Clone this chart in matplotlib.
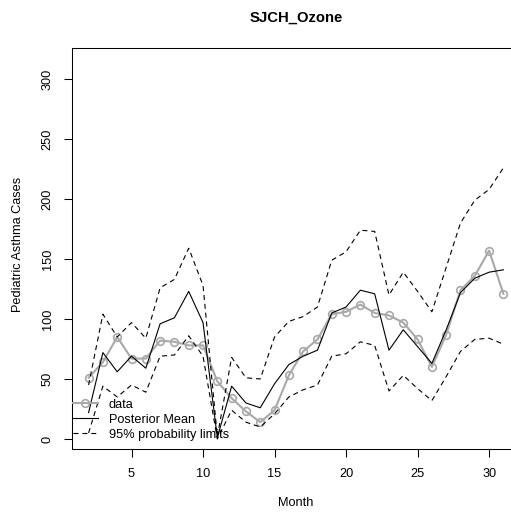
import matplotlib
matplotlib.use("Agg")
import matplotlib.pyplot as plt

plt.rcParams["font.family"] = ["Liberation Sans", "DejaVu Sans"]

# monthly counts and posterior summaries
months = list(range(2, 32))
observed = [51, 64, 85, 67, 67, 82, 81, 78, 78, 48, 34, 23, 14, 24, 53,
            73, 83, 104, 106, 112, 105, 103, 97, 83, 60, 87, 124, 136, 157, 121]
post_mean = [22, 72, 56, 69, 59, 96, 101, 123, 97, 1, 44, 30, 26, 46, 62,
             69, 74, 105, 110, 124, 121, 74, 91, 77, 63, 91, 122, 134, 139, 141]
upper95 = [45, 104, 85, 97, 84, 126, 133, 159, 128, 2, 68, 51, 50, 85, 98,
           102, 110, 149, 156, 174, 173, 120, 139, 123, 106, 143, 180, 199, 208, 226]
lower95 = [5, 44, 35, 45, 39, 69, 70, 86, 69, 0, 24, 14, 10, 21, 35,
           41, 45, 69, 71, 81, 78, 40, 53, 42, 32, 52, 73, 83, 84, 79]

W, H = 511, 514
fig = plt.figure(figsize=(W / 100, H / 100), dpi=100)
# plot region (right side runs a little past the canvas)
ax = fig.add_axes([72 / W, (H - 449.3) / H, (520 - 72) / W, (449.3 - 48.3) / H])

grey = "#a9a9a9"
line_kw = dict(solid_joinstyle="round", dash_joinstyle="round")
ax.plot(months, observed, color=grey, lw=1.5, marker="o", ms=5.5,
        mfc="none", mec=grey, mew=1.2, label="data", **line_kw)
ax.plot(months, post_mean, color="black", lw=0.8, label="Posterior Mean",
        **line_kw)
ax.plot(months, upper95, color="black", lw=0.8, dashes=(4.5, 3.5),
        label="95% probability limits", **line_kw)
ax.plot(months, lower95, color="black", lw=0.8, dashes=(4.5, 3.5), **line_kw)

ax.set_xlim(0.84, 32.16)
ax.set_ylim(-8.6, 325.6)
ax.set_xticks([5, 10, 15, 20, 25, 30])
ax.set_yticks([0, 50, 100, 150, 200, 250, 300])
ax.tick_params(direction="out", length=5.8, width=0.75, labelsize=9.2)
ax.tick_params(axis="x", pad=7.5)
ax.tick_params(axis="y", pad=7.5)
for lab in ax.get_yticklabels():
    lab.set_rotation(90)
    lab.set_va("center")
for sp in ax.spines.values():
    sp.set_linewidth(0.75)

leg = ax.legend(loc="upper left", bbox_to_anchor=(73 / W, 1 - 398.5 / H),
                bbox_transform=fig.transFigure, frameon=False, fontsize=9.2,
                handlelength=1.95, handletextpad=0.85, labelspacing=0.25,
                borderpad=0, borderaxespad=0)

fig.text(296 / W, 1 - 18 / H, "SJCH_Ozone", ha="center", va="center",
         fontsize=10.7, fontweight="bold")
fig.text(296 / W, 1 - 503 / H, "Month", ha="center", va="center", fontsize=9.2)
fig.text(18 / W, 1 - 244 / H, "Pediatric Asthma Cases", ha="center",
         va="center", rotation=90, fontsize=9.2)

fig.savefig("out.png", dpi=100)
